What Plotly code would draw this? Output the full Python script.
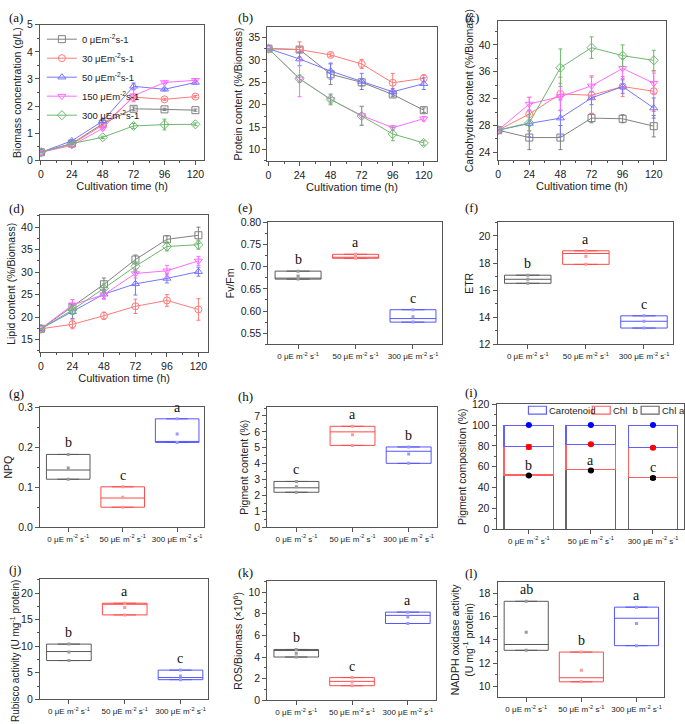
import plotly.graph_objects as go

W, H = 685, 724

# ---------------- data ----------------
time_h = [0, 24, 48, 72, 96, 120]
series_names = ["0 μEm<sup>-2</sup>s-1", "30 μEm<sup>-2</sup>s-1", "50 μEm<sup>-2</sup>s-1",
                "150 μEm<sup>-2</sup>s-1", "300 μEm<sup>-2</sup>s-1"]

biomass = [[0.30, 0.62, 1.35, 1.90, 1.88, 1.85],
           [0.30, 0.60, 1.30, 2.33, 2.25, 2.35],
           [0.30, 0.72, 1.45, 2.73, 2.62, 2.87],
           [0.30, 0.55, 1.18, 2.38, 2.87, 2.95],
           [0.30, 0.62, 0.85, 1.27, 1.32, 1.33]]
biomass_err = [[0, 0.03, 0.05, 0.07, 0.04, 0.04],
               [0, 0.03, 0.05, 0.05, 0.04, 0.04],
               [0, 0.04, 0.06, 0.12, 0.05, 0.05],
               [0, 0.05, 0.06, 0.22, 0.05, 0.05],
               [0, 0.03, 0.04, 0.09, 0.20, 0.05]]

protein = [[32.5, 32.3, 26.8, 25.0, 22.3, 18.8],
           [32.5, 32.3, 31.1, 29.1, 24.9, 25.9],
           [32.5, 30.2, 27.5, 25.2, 22.9, 24.7],
           [32.5, 25.8, 21.2, 17.6, 14.9, 16.9],
           [32.5, 25.8, 21.2, 17.5, 13.5, 11.5]]
protein_err = [[0, 0.5, 2.3, 0.8, 0.5, 0.5],
               [0, 1.7, 0.4, 1.0, 2.1, 0.8],
               [0, 1.5, 1.8, 1.8, 0.7, 1.3],
               [0, 4.0, 1.0, 2.1, 0.5, 0.5],
               [0, 0.8, 1.2, 2.1, 1.5, 0.5]]

carbo = [[27.3, 26.2, 26.2, 29.1, 29.0, 27.9],
         [27.3, 29.7, 32.7, 32.5, 33.8, 33.1],
         [27.3, 28.3, 29.1, 32.1, 33.8, 30.6],
         [27.3, 31.2, 32.3, 33.9, 36.5, 34.3],
         [27.3, 28.4, 36.6, 39.6, 38.4, 37.7]]
carbo_err = [[0, 1.8, 1.8, 0.7, 0.6, 1.6],
             [0, 2.5, 2.5, 2.7, 1.5, 3.0],
             [0, 2.0, 2.7, 1.0, 1.0, 1.5],
             [0, 1.0, 2.0, 1.5, 1.5, 1.5],
             [0, 1.2, 2.8, 1.6, 1.6, 1.5]]

lipid = [[17.4, 22.3, 27.3, 32.8, 37.3, 38.2],
         [17.4, 18.4, 20.3, 22.4, 23.7, 21.7],
         [17.4, 21.2, 25.1, 27.4, 28.6, 30.1],
         [17.4, 22.7, 25.0, 29.7, 30.3, 32.5],
         [17.4, 21.6, 26.4, 31.3, 35.7, 36.1]]
lipid_err = [[0, 0.5, 1.4, 1.0, 0.8, 1.8],
             [0, 1.0, 0.8, 1.6, 1.3, 2.4],
             [0, 1.5, 1.0, 2.5, 1.0, 1.0],
             [0, 1.2, 1.0, 1.0, 1.2, 1.0],
             [0, 1.0, 1.0, 1.0, 1.0, 1.0]]

cats = ["0 μE m<sup>-2</sup> s<sup>-1</sup>", "50 μE m<sup>-2</sup> s<sup>-1</sup>",
        "300 μE m<sup>-2</sup> s<sup>-1</sup>"]

# box panels: min, median, max, mean, letters
fvfm_min = [0.672, 0.719, 0.575]; fvfm_med = [0.673, 0.721, 0.583]
fvfm_max = [0.690, 0.728, 0.603]; fvfm_mean = [0.679, 0.724, 0.587]; fvfm_let = ["b", "a", "c"]

etr_min = [16.5, 17.9, 13.2]; etr_med = [16.8, 18.7, 13.7]
etr_max = [17.1, 18.9, 14.1]; etr_mean = [16.8, 18.5, 13.7]; etr_let = ["b", "a", "c"]

npq_min = [0.120, 0.050, 0.212]; npq_med = [0.143, 0.073, 0.214]
npq_max = [0.182, 0.101, 0.271]; npq_mean = [0.148, 0.075, 0.233]; npq_let = ["b", "c", "a"]

pig_min = [2.20, 5.15, 4.02]; pig_med = [2.48, 6.00, 4.78]
pig_max = [2.88, 6.35, 5.05]; pig_mean = [2.55, 5.82, 4.60]; pig_let = ["c", "a", "b"]

rub_min = [7.3, 15.9, 3.7]; rub_med = [9.0, 17.9, 4.1]
rub_max = [10.4, 18.1, 5.5]; rub_mean = [8.9, 17.3, 4.4]; rub_let = ["b", "a", "c"]

ros_min = [4.0, 1.35, 7.1]; ros_med = [4.6, 1.75, 7.85]
ros_max = [4.7, 2.10, 8.15]; ros_mean = [4.35, 1.70, 7.70]; ros_let = ["b", "c", "a"]

nox_min = [13.1, 10.4, 13.5]; nox_med = [13.6, 10.75, 15.85]
nox_max = [17.3, 12.95, 16.8]; nox_mean = [14.65, 11.4, 15.4]; nox_let = ["ab", "b", "a"]

# pigment composition (stacked, %)
comp_names = ["Chl a", "Chl  b", "Carotenoid"]
chla_top = [52.0, 57.0, 50.0]
chlb_top = [79.5, 81.5, 78.5]
caro_top = [100.0, 100.0, 100.0]
chla_pt = [51.5, 56.5, 49.2]; chla_pt_err = [0.8, 1.0, 1.5]
chlb_pt = [79.0, 81.5, 78.2]; chlb_pt_err = [2.0, 1.0, 1.2]
caro_pt = [100.0, 100.0, 100.0]; caro_pt_err = [0.3, 0.3, 0.3]
comp_letters = ["b", "a", "c"]

# ---------------- style ----------------
line_colors = ["#808080", "#ff7a7a", "#7676ff", "#ff6bff", "#6cb86c"]
symbols = ["square-open", "circle-open", "triangle-up-open", "triangle-down-open", "diamond-open"]
box_colors = ["#5a5a5a", "#ff4a4a", "#5555ff"]
dot_colors = ["#9a9a9a", "#ff9a9a", "#9a9aff"]
comp_colors = ["#666666", "#ff6060", "#6060ff"]
FRAME = "#555555"
SANS = "Arial, Liberation Sans, sans-serif"
SERIF = "Times New Roman, Liberation Serif, serif"
TICK_SIZE = 10.5
TITLE_SIZE = 10.5

fig = go.Figure()

# panel pixel frames (left, top, right, bottom)
frames = [(38, 19, 203, 157), (266, 21, 436, 158), (497, 15, 666, 157),
          (38, 213, 207, 352), (267, 220, 441, 344), (497, 220, 673, 344),
          (38, 408, 203, 530), (266, 408, 436, 530), (496, 405, 684, 532),
          (38, 583, 207, 705), (266, 585, 435, 706), (497, 586, 664, 703)]


def ax_ids(i):
    return ("x" if i == 1 else f"x{i}"), ("y" if i == 1 else f"y{i}")


# ---- line panels ----
line_panels = [(1, biomass, biomass_err), (2, protein, protein_err),
               (3, carbo, carbo_err), (4, lipid, lipid_err)]
for pi, vals, errs in line_panels:
    xa, ya = ax_ids(pi)
    for s in range(5):
        fig.add_trace(go.Scatter(
            x=time_h, y=vals[s], xaxis=xa, yaxis=ya, mode="lines+markers",
            name=series_names[s], showlegend=(pi == 1), legend="legend",
            line=dict(color=line_colors[s], width=1),
            marker=dict(symbol=symbols[s], size=7, color=line_colors[s], line=dict(width=1)),
            error_y=dict(type="data", array=errs[s], color=line_colors[s], thickness=1, width=2),
            hoverinfo="skip"))

# ---- box panels ----
box_panels = [(5, fvfm_min, fvfm_med, fvfm_max, fvfm_mean, fvfm_let),
              (6, etr_min, etr_med, etr_max, etr_mean, etr_let),
              (7, npq_min, npq_med, npq_max, npq_mean, npq_let),
              (8, pig_min, pig_med, pig_max, pig_mean, pig_let),
              (10, rub_min, rub_med, rub_max, rub_mean, rub_let),
              (11, ros_min, ros_med, ros_max, ros_mean, ros_let),
              (12, nox_min, nox_med, nox_max, nox_mean, nox_let)]
annotations = []
shapes = []
for pi, mn, md, mx, me, lets in box_panels:
    xa, ya = ax_ids(pi)
    for k in range(3):
        fig.add_trace(go.Box(
            x=[cats[k]], q1=[mn[k]], median=[md[k]], q3=[mx[k]],
            lowerfence=[mn[k]], upperfence=[mx[k]], xaxis=xa, yaxis=ya,
            width=0.8, fillcolor="rgba(0,0,0,0)", line=dict(color=box_colors[k], width=1),
            showlegend=False, hoverinfo="skip"))
        fig.add_trace(go.Scatter(
            x=[cats[k]] * 3, y=[mx[k], me[k], mn[k]], xaxis=xa, yaxis=ya, mode="markers",
            marker=dict(symbol="square", size=3, color=dot_colors[k]),
            showlegend=False, hoverinfo="skip"))
        annotations.append(dict(x=cats[k], y=mx[k], xref=xa, yref=ya, text=lets[k],
                                showarrow=False, yanchor="bottom", yshift=2,
                                font=dict(family=SERIF, size=14, color="#111")))

# ---- stacked bar panel (i) ----
xa, ya = ax_ids(9)
chlb_seg = [b - a for a, b in zip(chla_top, chlb_top)]
caro_seg = [c - b for b, c in zip(chlb_top, caro_top)]
for name, seg, col in zip(comp_names, [chla_top, chlb_seg, caro_seg], comp_colors):
    fig.add_trace(go.Bar(x=cats, y=seg, xaxis=xa, yaxis=ya, name=name, width=0.8,
                         marker=dict(color="rgba(255,255,255,0)", line=dict(color=col, width=1.2)),
                         showlegend=False, hoverinfo="skip"))
for pts, er, col in [(chla_pt, chla_pt_err, "#000000"), (chlb_pt, chlb_pt_err, "#ff0000"),
                     (caro_pt, caro_pt_err, "#0000ff")]:
    fig.add_trace(go.Scatter(x=cats, y=pts, xaxis=xa, yaxis=ya, mode="markers",
                             marker=dict(symbol="circle", size=6, color=col),
                             error_y=dict(type="data", array=er, color=col, thickness=1, width=3),
                             showlegend=False, hoverinfo="skip"))
for k in range(3):
    annotations.append(dict(x=cats[k], y=chla_top[k], xref=xa, yref=ya, text=comp_letters[k],
                            showarrow=False, yanchor="bottom", yshift=0,
                            font=dict(family=SERIF, size=14, color="#111")))

# legend of panel (i): key boxes + labels (Carotenoid, Chl b, Chl a from left)
key_left = [528, 592, 641]
for j, idx in enumerate([2, 1, 0]):
    x0 = key_left[j]
    shapes.append(dict(type="rect", xref="paper", yref="paper",
                       x0=x0 / W, x1=(x0 + 18) / W, y0=1 - 415 / H, y1=1 - 407 / H,
                       line=dict(color=comp_colors[idx], width=1.2), fillcolor="white"))
    annotations.append(dict(x=(x0 + 19) / W, y=1 - 411 / H, xref="paper", yref="paper",
                            text=comp_names[idx], showarrow=False, xanchor="left",
                            yanchor="middle",
                            font=dict(family=SANS, size=9.5, color="#222")))

# ---------------- axes ----------------
y_titles = ["Biomass concentration (g/L)", "Protein content (%/Biomass)",
            "Carbohydrate content (%/Biomass)", "Lipid content (%/Biomass)",
            "Fv/Fm", "ETR", "NPQ", "Pigment content (%)", "Pigment composition (%)",
            "Rubisco activity (U mg<sup>-1</sup> protein)", "ROS/Biomass (×10<sup>6</sup>)",
            "NADPH oxidase activity<br>(U mg<sup>-1</sup> protein)"]
y_ranges = [[0, 5], [7.4, 37.4], [22.8, 43.6], [12.2, 42.6], [0.525, 0.80], [12, 21],
            [0, 0.3], [0, 7.55], [0, 120], [0, 22.6], [0, 11], [9.07, 18.93]]
y_ticks = [(0, 1, 0.5, None), (10, 5, 2.5, None), (24, 4, 2, None), (15, 5, 2.5, None),
           (0.55, 0.05, 0.025, ".2f"), (12, 2, 1, None), (0, 0.1, 0.05, ".1f"),
           (0, 1, 0.5, None), (0, 20, 10, None), (0, 5, 2.5, None), (0, 2, 1, None),
           (10, 2, 1, None)]
x_ranges_line = [[-0.8, 127], [-1, 130], [-0.5, 129.5], [-0.8, 127.6]]

layout_axes = {}
for i in range(1, 13):
    l, t, r, b = frames[i - 1]
    xd = [l / W, r / W]
    yd = [1 - b / H, 1 - t / H]
    xa, ya = ax_ids(i)
    common = dict(showline=True, mirror=True, linecolor=FRAME, linewidth=1, showgrid=False,
                  zeroline=False, ticks="outside", ticklen=4, tickcolor=FRAME,
                  tickfont=dict(family=SANS, size=TICK_SIZE, color="#222"))
    if i <= 4:
        xax = dict(common, domain=xd, anchor=ya, range=x_ranges_line[i - 1],
                   tick0=0, dtick=24,
                   minor=dict(ticks="outside", ticklen=2, tickcolor=FRAME, dtick=12, tick0=0),
                   title=dict(text="Cultivation time (h)", standoff=2,
                              font=dict(family=SANS, size=TITLE_SIZE + 0.5, color="#222")))
    else:
        xax = dict(common, domain=xd, anchor=ya, type="category", categoryorder="array",
                   categoryarray=cats, range=[-0.52, 2.5], tickangle=0,
                   tickfont=dict(family=SANS, size=8, color="#222"))
    t0, dt, mdt, fmt = y_ticks[i - 1]
    yax = dict(common, domain=yd, anchor=xa, range=y_ranges[i - 1], tick0=t0, dtick=dt,
               minor=dict(ticks="outside", ticklen=2, tickcolor=FRAME, dtick=mdt, tick0=t0))
    if i == 10:
        # Rubisco title sits lower than centre in the original: placed as rotated text
        annotations.append(dict(x=13 / W, y=1 - 656 / H, xref="paper", yref="paper",
                                text=y_titles[i - 1], textangle=-90, showarrow=False,
                                xanchor="center", yanchor="middle",
                                font=dict(family=SANS, size=10, color="#222")))
    else:
        yax["title"] = dict(text=y_titles[i - 1], standoff=3,
                            font=dict(family=SANS, size=TITLE_SIZE, color="#222"))
    if fmt:
        yax["tickformat"] = fmt
    layout_axes["xaxis" if i == 1 else f"xaxis{i}"] = xax
    layout_axes["yaxis" if i == 1 else f"yaxis{i}"] = yax

# panel labels
panel_labels = ["(a)", "(b)", "(c)", "(d)", "(e)", "(f)", "(g)", "(h)", "(i)", "(j)", "(k)", "(l)"]
label_pos = [(5, 2), (235, 2), (462, 2), (5, 196), (235, 195), (462, 195),
             (5, 384), (235, 387), (462, 383), (5, 563), (235, 566), (462, 567)]
for txt, (px, py) in zip(panel_labels, label_pos):
    annotations.append(dict(x=px / W, y=1 - py / H, xref="paper", yref="paper", text=txt,
                            showarrow=False, xanchor="left", yanchor="top",
                            font=dict(family=SERIF, size=13, color="#111")))

fig.update_layout(
    width=W, height=H, margin=dict(l=0, r=0, t=0, b=0),
    paper_bgcolor="white", plot_bgcolor="white",
    barmode="stack", boxmode="overlay",
    annotations=annotations, shapes=shapes,
    legend=dict(x=40 / W, y=1 - 19 / H, xanchor="left", yanchor="top", traceorder="normal",
                bgcolor="rgba(0,0,0,0)", font=dict(family=SANS, size=9.5, color="#222"),
                itemwidth=30, tracegroupgap=0),
    **layout_axes)

fig.write_html("out.html", config={"displayModeBar": False},
               post_script="document.body.style.margin='0';document.body.style.overflow='hidden';")
